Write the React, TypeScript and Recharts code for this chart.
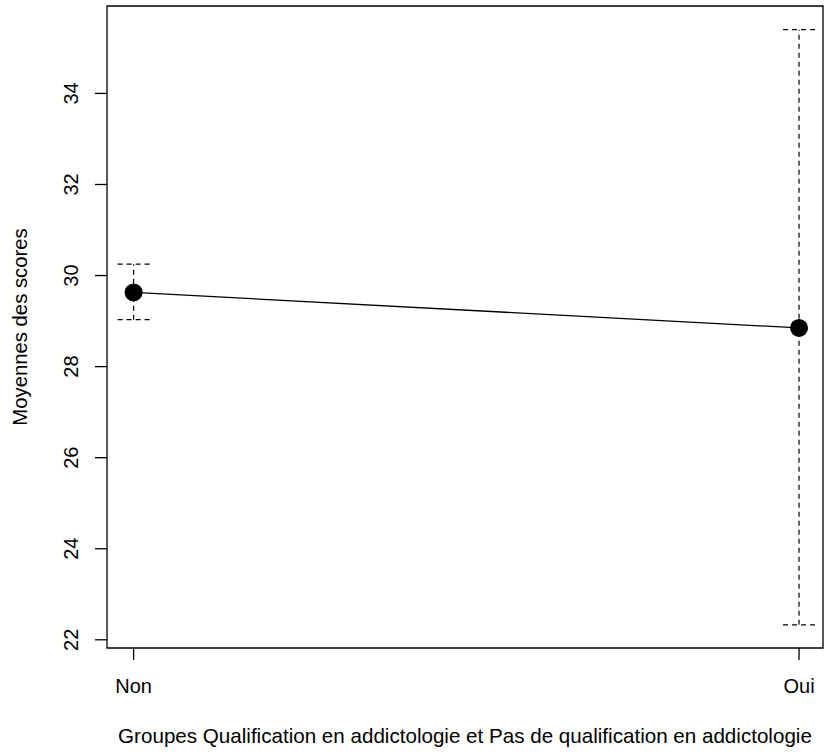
import { ComposedChart, Line, ErrorBar, XAxis, YAxis, ReferenceArea } from "recharts";

const groups = ["Non", "Oui"];
const means = [29.63, 28.85];
const lower = [29.03, 22.33];
const upper = [30.25, 35.4];
const yTicks = [22, 24, 26, 28, 30, 32, 34];

const X_DOMAIN: [number, number] = [0.96, 2.036];
const Y_DOMAIN: [number, number] = [21.82, 35.92];
const FONT = '"Liberation Sans", Arial, Helvetica, sans-serif';

const data = groups.map((g, i) => ({
  x: i + 1,
  name: g,
  mean: means[i],
  err: [means[i] - lower[i], upper[i] - means[i]],
}));

function YTick({ x, y, payload }: any) {
  const bx = x - 17;
  return (
    <text x={bx} y={y} transform={`rotate(-90 ${bx} ${y})`} textAnchor="middle" fontSize={20} fontFamily={FONT} fill="#000">
      {payload.value}
    </text>
  );
}

function XTick({ x, y, payload }: any) {
  return (
    <text x={x} y={y + 33} textAnchor="middle" fontSize={20} fontFamily={FONT} fill="#000">
      {groups[payload.value - 1]}
    </text>
  );
}

function YLabel({ viewBox }: any) {
  const lx = viewBox.x + 27;
  const ly = viewBox.y + viewBox.height / 2;
  return (
    <text x={lx} y={ly} transform={`rotate(-90 ${lx} ${ly})`} textAnchor="middle" fontSize={20.3} fontFamily={FONT} fill="#000">
      Moyennes des scores
    </text>
  );
}

export default function App() {
  return (
    <div style={{ position: "absolute", left: 0, top: 0, width: 826, height: 753, background: "#fff" }}>
      <ComposedChart width={826} height={753} data={data} margin={{ top: 6, right: 3, bottom: 0, left: 0 }}>
        <XAxis
          dataKey="x"
          type="number"
          domain={X_DOMAIN}
          ticks={[1, 2]}
          allowDataOverflow
          axisLine={false}
          tickLine={{ stroke: "#000", strokeWidth: 1.3 }}
          tickSize={12}
          tickMargin={0}
          height={105}
          tick={<XTick />}
          label={{
            value: "Groupes Qualification en addictologie et Pas de qualification en addictologie",
            position: "insideBottom",
            offset: 10,
            fontSize: 20.6,
            fontFamily: FONT,
            fill: "#000",
          }}
        />
        <YAxis
          type="number"
          domain={Y_DOMAIN}
          ticks={yTicks}
          allowDataOverflow
          axisLine={false}
          tickLine={{ stroke: "#000", strokeWidth: 1.3 }}
          tickSize={12}
          tickMargin={0}
          width={107}
          tick={<YTick />}
          label={<YLabel />}
        />
        <ReferenceArea
          x1={X_DOMAIN[0]}
          x2={X_DOMAIN[1]}
          y1={Y_DOMAIN[0]}
          y2={Y_DOMAIN[1]}
          fill="none"
          stroke="#000"
          strokeWidth={1.3}
          ifOverflow="visible"
        />
        <Line
          dataKey="mean"
          type="linear"
          stroke="#000"
          strokeWidth={1.3}
          dot={{ r: 9, fill: "#000", stroke: "#000", strokeWidth: 0 }}
          activeDot={false}
          isAnimationActive={false}
        >
          <ErrorBar dataKey="err" width={16} stroke="#000" strokeWidth={1.2} strokeDasharray="5 4" isAnimationActive={false} />
        </Line>
      </ComposedChart>
    </div>
  );
}
